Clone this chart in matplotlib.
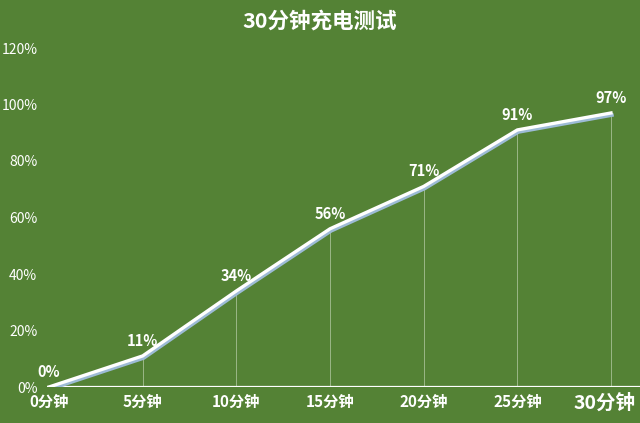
import matplotlib.pyplot as plt
import matplotlib.patheffects as pe

plt.rcParams['font.family'] = ['Noto Sans CJK SC', 'DejaVu Sans']

# 充电数据
minutes = [0, 5, 10, 15, 20, 25, 30]
percent = [0, 11, 34, 56, 71, 91, 97]
x_labels = ['0分钟', '5分钟', '10分钟', '15分钟', '20分钟', '25分钟', '30分钟']
y_ticks = [0, 20, 40, 60, 80, 100, 120]

bg = '#548235'

fig = plt.figure(figsize=(6.4, 4.23), dpi=100, facecolor=bg)
ax = fig.add_axes([47 / 640, 36 / 423, 593 / 640, 339 / 423])
ax.set_facecolor(bg)

# x范围: 0 -> 49px, 30 -> 611px
px = (611 - 49) / 30
ax.set_xlim(-2 / px, 30 + 29 / px)
ax.set_ylim(0, 120)

# 竖线
for m, p in zip(minutes[1:], percent[1:]):
    ax.plot([m, m], [0, p], color='#c9d9bd', lw=0.6, alpha=0.7, zorder=1)

# 折线 + 阴影
ax.plot(minutes, percent, color='white', lw=2.4, zorder=3,
        path_effects=[pe.SimpleLineShadow(offset=(0.8, -1.6), shadow_color='#9dbbd6', alpha=1),
                      pe.Normal()])

# 数据标签
for m, p in zip(minutes, percent):
    ax.annotate(f'{p}%', (m, p), xytext=(0, 5), textcoords='offset points',
                ha='center', va='bottom', color='white', fontsize=10.5, fontweight='bold')

ax.axhline(0, color='white', lw=1.6, zorder=2)

for s in ax.spines.values():
    s.set_visible(False)

ax.set_yticks(y_ticks)
ax.set_yticklabels([f'{v}%' for v in y_ticks], color='white', fontsize=10)
ax.set_xticks(minutes)
ax.set_xticklabels(x_labels[:-1] + [''], color='white', fontsize=11, fontweight='bold')
# 最后一个标签更大, 稍微左移
ax.annotate(x_labels[-1], (minutes[-1], 0), xytext=(-5, -5), textcoords='offset points',
            ha='center', va='top', color='white', fontsize=14, fontweight='bold')
ax.tick_params(length=0, axis='y', pad=7)
ax.tick_params(length=0, axis='x', pad=5)

fig.text(0.5, 0.95, '30分钟充电测试', ha='center', va='center', color='white',
         fontsize=15.5, fontweight='bold')

fig.savefig('out.png', dpi=100, facecolor=bg)
